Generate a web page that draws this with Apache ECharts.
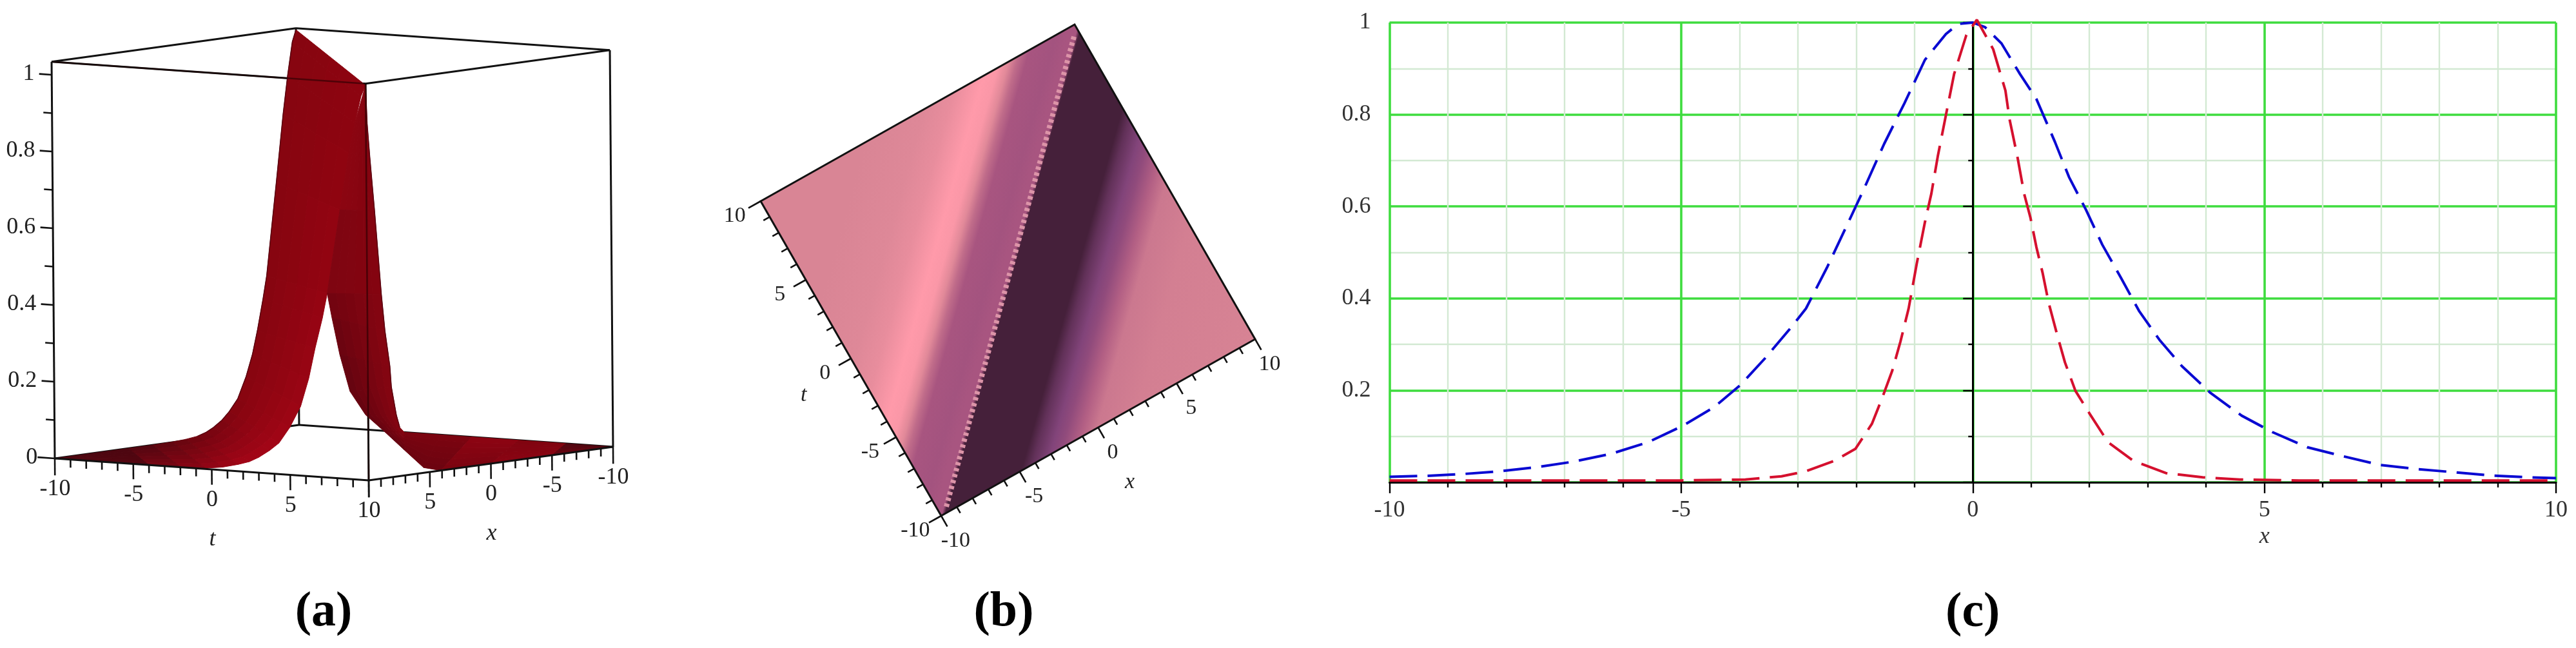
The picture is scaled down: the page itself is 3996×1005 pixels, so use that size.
<!DOCTYPE html>
<html><head><meta charset="utf-8">
<style>html,body{margin:0;padding:0;background:#fff}#c{width:3996px;height:1005px}</style>
<script src="https://cdn.jsdelivr.net/npm/echarts@6/dist/echarts.min.js"></script>
</head><body><div id="c"></div>
<script>
// ---------- panel (c) curves ----------
const blueX=[-10,-9.37,-8.74,-8.1,-7.47,-6.84,-6.2,-5.57,-4.97,-4.44,-3.98,-3.56,-3.14,-2.86,-2.5,-2.15,-1.87,-1.52,-1.17,-0.82,-0.46,-0.25,0,0.21,0.49,0.81,1.09,1.41,1.65,1.94,2.22,2.54,2.85,3.2,3.59,4.08,4.61,5.14,5.74,6.34,6.97,7.6,8.24,8.87,9.5,10];
const blueY=[0.012,0.014,0.018,0.024,0.033,0.045,0.062,0.087,0.123,0.163,0.212,0.27,0.333,0.378,0.467,0.561,0.637,0.736,0.825,0.919,0.975,0.997,1.0,0.99,0.955,0.888,0.834,0.74,0.664,0.593,0.517,0.445,0.373,0.31,0.252,0.194,0.145,0.109,0.076,0.057,0.038,0.029,0.022,0.015,0.011,0.009];
const redX=[-10,-5,-3.9,-3.28,-2.86,-2.37,-2.01,-1.73,-1.56,-1.38,-1.24,-1.1,-0.96,-0.82,-0.71,-0.6,-0.46,-0.32,-0.11,0.07,0.35,0.56,0.63,0.77,0.88,0.99,1.09,1.2,1.3,1.44,1.58,1.76,2,2.32,2.75,3.31,3.94,4.58,5.6,10];
const redY=[0.004,0.004,0.006,0.013,0.024,0.047,0.073,0.127,0.181,0.243,0.306,0.378,0.476,0.566,0.628,0.709,0.799,0.888,0.973,1.006,0.942,0.852,0.79,0.705,0.628,0.575,0.512,0.454,0.391,0.324,0.261,0.199,0.15,0.087,0.047,0.02,0.011,0.006,0.004,0.004];
const cXLabelTitle='x';
// ---------- panel (a) surface ----------
const leftW=[0,0.3,0.7,1.1,1.7,2.55,2.87,3.35,3.77,4.3,5,5.7,6.3,7,7.6,8.3,9.3,10.4,12,14,20];
const leftBackZ=[1.03,1.0,0.915,0.815,0.64,0.40,0.34,0.26,0.2,0.145,0.09,0.06,0.04,0.024,0.014,0.007,0.003,0.001,0,0,0];
const leftFrontZ=[1.03,1.0,0.93,0.85,0.70,0.48,0.415,0.335,0.255,0.181,0.124,0.081,0.06,0.04,0.027,0.018,0.008,0.002,0.001,0,0];
const rightInnerT=[10,9.3,8.9,8.3,7.45,7.35,7.44,7.68,7.88,8.33,8.78,9.22,10,10,10,10];
const rightInnerX=[10,10,10,10,10,9.5,9,8.5,7.5,6.5,5.5,4.5,4.1,0,-5,-10];
const rightInnerZ=[1.03,0.93,0.85,0.70,0.48,0.414,0.316,0.219,0.154,0.106,0.056,0.007,0,0,0,0];
const rightOuterT=[10,10,10,10,10,10,10,10,10,10,-3.3,-1,1,4,7,10];
const rightOuterX=[10,9.9,9.7,9.35,8.85,8.58,8.2,8.09,7.7,7.43,-10,-10,-10,-10,-10,-10];
const rightOuterZ=[1.03,0.93,0.84,0.70,0.48,0.384,0.29,0.235,0.16,0.127,0,0,0,0,0,0];
// ---------- panel (b) bands across x-t ----------
const bandW=[-20,-13.4,-9.65,-7.8,-5.9,-5,-4.3,-3.7,-3,-1.3,-0.4,0.15,0.4,5.2,5.9,7.05,7.8,8.9,10,12.6,20];
const bandLevel=[0.75,0.75,0.78,0.85,1,0.97,0.8,0.62,0.5,0.47,0.5,0.5,0,0,0.12,0.25,0.35,0.55,0.68,0.72,0.74];
// ---------- tick labels ----------
const unitTicks=[-10,-9,-8,-7,-6,-5,-4,-3,-2,-1,0,1,2,3,4,5,6,7,8,9,10];
const majorTicks=[-10,-5,0,5,10];
const zTicks=[0,0.1,0.2,0.3,0.4,0.5,0.6,0.7,0.8,0.9,1];
const zLabels=['0','0.2','0.4','0.6','0.8','1'];
const zLabelValues=[0,0.2,0.4,0.6,0.8,1];
const captions=['(a)','(b)','(c)'];

const SERIF='"Liberation Serif","DejaVu Serif",serif';
const lerpC=(f,a,b)=>echarts.color.lerp(Math.max(0,Math.min(1,f)),[a,b]);
const mix=(a,b,f)=>[a[0]+(b[0]-a[0])*f,a[1]+(b[1]-a[1])*f];

// oblique projections of the two 3D / rotated panels
const projA=(t,x,z)=>[85+24.35*(t+10)+18.95*(10-x)-4.8*z, 711+1.7*(t+10)-2.6*(10-x)-595*z];
const projB=(x,t)=>[1460-1050+24.35*(x+10)-14*(t+10), 800-13.7*(x+10)-24.4*(t+10)];

const poly=(pts,fill)=>api=>({type:'polygon',shape:{points:pts.map(p=>api.coord(p))},style:{fill,stroke:fill,lineWidth:1}});
const line=(pts,w,color)=>api=>({type:'polyline',shape:{points:pts.map(p=>api.coord(p))},style:{stroke:color,lineWidth:w,fill:null}});
const label=(p,text,o={})=>api=>{const c=api.coord(p);return {type:'text',style:{x:c[0],y:c[1],text,fill:o.fill||'#222',
  font:(o.italic?'italic ':'')+(o.bold?'bold ':'')+(o.size||36)+'px '+SERIF,align:o.align||'center',verticalAlign:'middle'}}};

// ---------- panel (a) ----------
const A=[];
const ZT=1.034;
const edge=(a,b,w=3,col='#111')=>A.push(line([a,b],w,col));
const cn={L:[-10,10],F:[10,10],R:[10,-10],B:[-10,-10]};
const pc=(n,z)=>projA(cn[n][0],cn[n][1],z);
edge(pc('B',0),pc('B',ZT)); edge(pc('B',0),pc('R',0)); edge(pc('B',0),pc('L',0));
edge(pc('L',ZT),pc('B',ZT)); edge(pc('B',ZT),pc('R',ZT));
edge(pc('L',ZT),pc('F',ZT)); edge(pc('F',0),pc('F',ZT));
// left wing
const COLS=6;
for(let i=0;i<leftW.length-1;i++){
  const w0=leftW[i],w1=leftW[i+1];
  const b0=projA(-10,-10+w0,leftBackZ[i]),b1=projA(-10,-10+w1,leftBackZ[i+1]);
  const f0=projA(10-w0,10,leftFrontZ[i]),f1=projA(10-w1,10,leftFrontZ[i+1]);
  for(let c=0;c<COLS;c++){
    const a=c/COLS,b=(c+1)/COLS,m=(a+b)/2,w=(w0+w1)/2;
    const backC=w<5?'#860510':lerpC((w-5)/9,'#860510','#4c0610');
    const frontC=w<8?lerpC((w-1)/5,'#8e0410','#a40516'):lerpC((w-8)/9,'#a40516','#540610');
    A.push(poly([mix(b0,f0,a),mix(b0,f0,b),mix(b1,f1,b),mix(b1,f1,a)],lerpC(m,backC,frontC)));
  }
}
// right wing and ridge flank
const RN=rightInnerT.length;
const rI=i=>projA(rightInnerT[i],rightInnerX[i],rightInnerZ[i]);
const rO=i=>projA(rightOuterT[i],rightOuterX[i],rightOuterZ[i]);
for(let i=0;i<RN-1;i++){
  const z=(rightInnerZ[i]+rightInnerZ[i+1])/2;
  for(let c=0;c<COLS;c++){
    const a=c/COLS,b=(c+1)/COLS,m=(a+b)/2;
    let col;
    if(i<10){
      const d=(0.75-z)/0.45;
      col=lerpC(m,lerpC(d,'#8c0511','#640410'),lerpC(d,'#840410','#860511'));
    }
    else if(i<12) col=lerpC(m,'#6c0410','#7c0410');
    else if(i===12) col=lerpC(m,'#7a0410','#8c0412');
    else if(i===13) col=lerpC(m,'#8a0412','#800410');
    else col=lerpC(m,'#6a0410','#500610');
    A.push(poly([mix(rI(i),rO(i),a),mix(rI(i),rO(i),b),mix(rI(i+1),rO(i+1),b),mix(rI(i+1),rO(i+1),a)],col));
  }
}
// dark rim of the silhouette
A.push(line(leftW.slice(0,16).map((w,i)=>projA(-10,-10+w,leftBackZ[i])),1.5,'#5a0510'));
A.push(line(rightOuterT.slice(0,10).map((t,i)=>projA(t,rightOuterX[i],rightOuterZ[i])),1.5,'#5a0510'));
// front edges over the surface
edge(pc('L',ZT),pc('F',ZT),2.6,'rgba(30,0,0,0.55)');
edge(pc('F',0),pc('F',ZT),2.6,'rgba(30,0,0,0.55)');
edge(pc('F',ZT),pc('R',ZT)); edge(pc('L',0),pc('L',ZT)); edge(pc('R',0),pc('R',ZT));
edge(pc('L',0),pc('F',0)); edge(pc('F',0),pc('R',0));
// ticks
unitTicks.forEach(v=>{
  const maj=majorTicks.includes(v);
  const end=Math.abs(v)===10?-0.044:(maj?-0.04:-0.021);
  A.push(line([projA(v,10,0),projA(v,10,end)],2.6,'#111'));
  A.push(line([projA(10,v,0),projA(10,v,end)],2.6,'#111'));
});
zTicks.forEach(v=>{
  const maj=Math.round(v*10)%2===0;
  const d=v===0?1.1:(maj?0.8:0.55);
  const a=projA(-10,10,v),b=projA(-10-d,10,v);
  A.push(line([a,b],2.6,'#111'));
});
zLabelValues.forEach((v,i)=>{
  A.push(label(projA(-11.1,10,v),zLabels[i],{align:'right',size:36}));
});
majorTicks.forEach(v=>{
  const s=String(v);
  A.push(label(projA(v,10,-0.08),s));
  if(v!==10) A.push(label(projA(10,v,-0.08),s));
});
A.push(label(projA(0,10,-0.183),'t',{italic:true,size:36}));
A.push(label(projA(10,0,-0.183),'x',{italic:true,size:36}));
A.push(label([502,950],captions[0],{bold:true,size:76,fill:'#000'}));

// ---------- panel (b) ----------
const B=[];
const bPalette=['#45203a','#82447a','#a85580','#d98595','#ff9aaa'];
const bColor=l=>echarts.color.lerp(l,bPalette);
B.push(api=>{
  const c=[projB(-10,-10),projB(10,-10),projB(10,10),projB(-10,10)].map(p=>api.coord(p));
  const left=c[3],right=c[1];
  const stops=bandW.map((w,i)=>({offset:(w+20)/40,color:bColor(bandLevel[i])}));
  return {type:'polygon',shape:{points:c},style:{stroke:'#111',lineWidth:3,
    fill:new echarts.graphic.LinearGradient(left[0],left[1],right[0],right[1],stops,true)}};
});
B.push(api=>({type:'polyline',shape:{points:[projB(-9.5,-9.7),projB(9.7,9.5)].map(p=>api.coord(p))},
  style:{stroke:'#dc94a8',lineWidth:8,lineDash:[5,4.5],fill:null}}));
unitTicks.forEach(v=>{
  const maj=majorTicks.includes(v);
  B.push(line([projB(-10,v),projB(-10-(maj?0.78:0.4),v)],2.6,'#111'));
  B.push(line([projB(v,-10),projB(v,-10-(maj?0.68:0.38))],2.6,'#111'));
});
majorTicks.forEach(v=>{
  B.push(label(projB(-11.65,v),String(v),{size:34}));
  B.push(label(projB(v,-11.6),String(v),{size:34}));
});
B.push(label(projB(-13.3,-0.5),'t',{italic:true,size:34}));
B.push(label(projB(0,-13.5),'x',{italic:true,size:34}));
B.push(label([1557-1050,950],captions[1],{bold:true,size:76,fill:'#000'}));

// ---------- panel (c) annotations ----------
const C=[];
C.push(label([5,-0.118],cXLabelTitle,{italic:true,size:36,fill:'#333'}));
C.push(label([0,-0.285],captions[2],{bold:true,size:76,fill:'#000'}));

const hidden=(i,min,max,inv)=>({gridIndex:i,type:'value',min,max,inverse:!!inv,show:false,splitLine:{show:false}});
const scene=(i,shapes)=>({type:'custom',coordinateSystem:'cartesian2d',xAxisIndex:i,yAxisIndex:i,silent:true,clip:false,animation:false,
  data:shapes.map(()=>[0,0]),renderItem:(p,api)=>shapes[p.dataIndex](api)});

const chart=echarts.init(document.getElementById('c'),null,{renderer:'canvas',width:3996,height:1005});
const AXC='#000',TXT='#333';
chart.setOption({
  animation:false,backgroundColor:'#fff',
  grid:[
    {left:0,top:0,width:1000,height:1005},
    {left:1050,top:0,width:950,height:1005},
    {left:2155.5,top:35,width:1809.5,height:713}
  ],
  xAxis:[hidden(0,0,1000),hidden(1,0,950),{
    gridIndex:2,type:'value',min:-10,max:10,interval:5,
    axisLine:{onZero:true,lineStyle:{color:AXC,width:3}},
    axisTick:{length:17,lineStyle:{color:AXC,width:2.4}},
    minorTick:{show:true,splitNumber:5,length:8,lineStyle:{color:AXC,width:2.4}},
    splitLine:{show:true,lineStyle:{color:'#3edc3e',width:3.6}},
    minorSplitLine:{show:true,lineStyle:{color:'#d3e9d3',width:2.4}},
    axisLabel:{color:TXT,fontFamily:SERIF,fontSize:36,margin:26,showMinLabel:true,showMaxLabel:true}
  }],
  yAxis:[hidden(0,0,1005,true),hidden(1,0,1005,true),{
    gridIndex:2,type:'value',min:0,max:1,interval:0.2,
    axisLine:{onZero:true,lineStyle:{color:AXC,width:3}},
    axisTick:{length:15,lineStyle:{color:AXC,width:2.4}},
    minorTick:{show:true,splitNumber:2,length:7,lineStyle:{color:AXC,width:2.4}},
    splitLine:{show:true,lineStyle:{color:'#3edc3e',width:3.6}},
    minorSplitLine:{show:true,lineStyle:{color:'#d3e9d3',width:2.4}},
    axisLabel:{color:TXT,fontFamily:SERIF,fontSize:36,margin:29,showMinLabel:false,showMaxLabel:true}
  }],
  series:[
    scene(0,A),scene(1,B),
    {type:'line',xAxisIndex:2,yAxisIndex:2,showSymbol:false,silent:true,clip:false,
      data:blueX.map((x,i)=>[x,blueY[i]]),lineStyle:{color:'#0a0ad2',width:4,type:[43,16]},z:5},
    {type:'line',xAxisIndex:2,yAxisIndex:2,showSymbol:false,silent:true,clip:false,
      data:redX.map((x,i)=>[x,redY[i]]),lineStyle:{color:'#d5102e',width:4,type:[43,16]},z:6},
    scene(2,C)
  ]
});
</script></body></html>
